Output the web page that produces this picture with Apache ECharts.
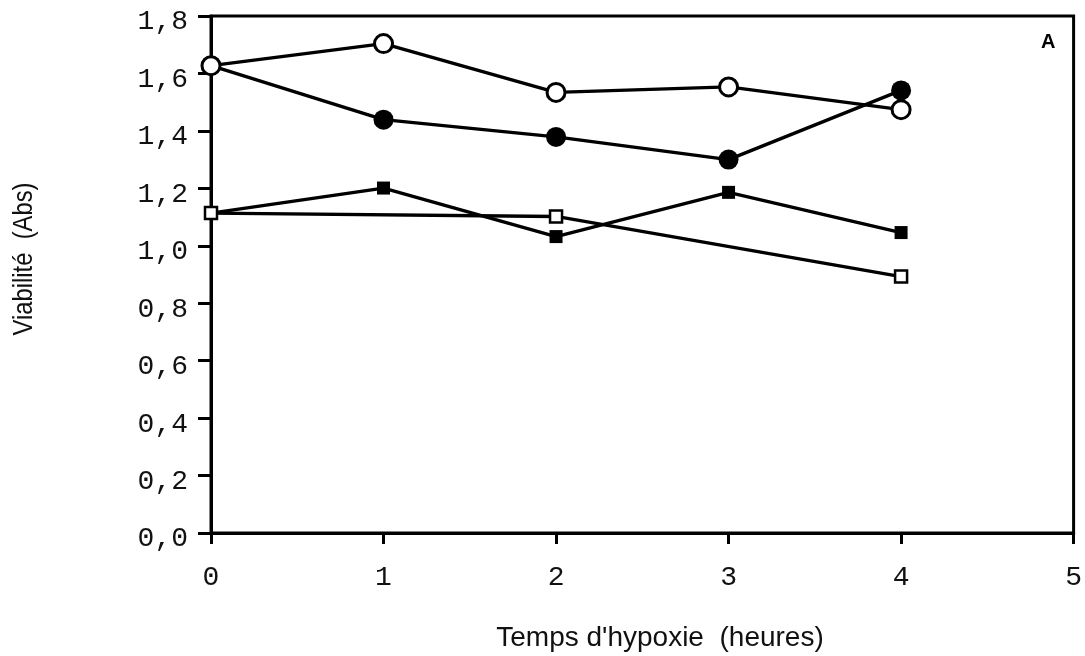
<!DOCTYPE html>
<html>
<head>
<meta charset="utf-8">
<script src="https://cdn.jsdelivr.net/npm/echarts@6/dist/echarts.min.js"></script>
<style>
  html, body { margin: 0; padding: 0; background: #fff; }
  #chart { width: 1085px; height: 656px; }
</style>
</head>
<body>
<div id="chart"></div>
<script>
// Hypoxia time (hours) and absorbance readings for the four conditions
const hours = [0, 1, 2, 3, 4];
const openCircle = [1.627, 1.704, 1.534, 1.553, 1.474];
const filledCircle = [1.627, 1.439, 1.379, 1.300, 1.541];
const filledSquare = [1.114, 1.201, 1.032, 1.186, 1.046];
const openSquareHours = [0, 2, 4];
const openSquare = [1.114, 1.102, 0.893];

const xTicks = [0, 1, 2, 3, 4, 5];
const yTicks = [0, 0.2, 0.4, 0.6, 0.8, 1.0, 1.2, 1.4, 1.6, 1.8];
const panelLabel = 'A';
const xTitle = "Temps d'hypoxie  (heures)";
const yTitle = 'Viabilité  (Abs)';

const pairs = (xs, ys) => xs.map((x, i) => [x, ys[i]]);

const chart = echarts.init(document.getElementById('chart'), null, { renderer: 'canvas' });

const lineStyle = { color: '#000', width: 3.3 };
const monoLabel = { fontFamily: 'Liberation Mono', fontSize: 28, color: '#111' };
const sansTitle = { fontFamily: 'Liberation Sans', fontSize: 28, fill: '#111' };

chart.setOption({
  animation: false,
  backgroundColor: '#fff',
  grid: {
    left: 211, right: 8, top: 16, bottom: 123,
    show: true, borderColor: '#000', borderWidth: 3, backgroundColor: 'transparent'
  },
  graphic: [
    {
      type: 'text', left: 1041, top: 32,
      style: { text: panelLabel, fontFamily: 'Liberation Sans', fontWeight: 'bold', fontSize: 20, fill: '#000' }
    },
    {
      type: 'text', x: 660, y: 638,
      style: Object.assign({ text: xTitle, align: 'center', verticalAlign: 'middle' }, sansTitle)
    },
    {
      type: 'text', x: 24, y: 259, rotation: Math.PI / 2, scaleX: 0.85,
      style: Object.assign({ text: yTitle, align: 'center', verticalAlign: 'middle' }, sansTitle)
    }
  ],
  xAxis: {
    type: 'value', min: xTicks[0], max: xTicks[xTicks.length - 1], interval: 1,
    axisLine: { lineStyle: { color: '#000', width: 3 } },
    axisTick: { show: true, inside: false, length: 11, lineStyle: { color: '#000', width: 3 } },
    axisLabel: Object.assign({ margin: 31 }, monoLabel),
    splitLine: { show: false }
  },
  yAxis: {
    type: 'value', min: yTicks[0], max: yTicks[yTicks.length - 1], interval: 0.2,
    axisLine: { lineStyle: { color: '#000', width: 3 } },
    axisTick: { show: true, inside: false, length: 13, lineStyle: { color: '#000', width: 3 } },
    axisLabel: Object.assign({
      margin: 23,
      formatter: v => '{t|' + v.toFixed(1).replace('.', ',') + '}',
      rich: {
        t: Object.assign({ padding: [12, 0, 0, 0] }, monoLabel)
      }
    }, monoLabel),
    splitLine: { show: false }
  },
  series: [
    {
      type: 'line', data: pairs(hours, filledSquare), z: 2,
      symbol: 'rect', symbolSize: 13, showAllSymbol: true,
      lineStyle, itemStyle: { color: '#000', borderColor: '#000', borderWidth: 0 }
    },
    {
      type: 'line', data: pairs(openSquareHours, openSquare), z: 3,
      symbol: 'rect', symbolSize: 12, showAllSymbol: true,
      lineStyle, itemStyle: { color: '#fff', borderColor: '#000', borderWidth: 2.5 }
    },
    {
      type: 'line', data: pairs(hours, filledCircle), z: 4,
      symbol: 'circle', symbolSize: 20, showAllSymbol: true,
      lineStyle, itemStyle: { color: '#000', borderColor: '#000', borderWidth: 0 }
    },
    {
      type: 'line', data: pairs(hours, openCircle), z: 5,
      symbol: 'circle', symbolSize: 18, showAllSymbol: true,
      lineStyle, itemStyle: { color: '#fff', borderColor: '#000', borderWidth: 3 }
    }
  ]
});
</script>
</body>
</html>
